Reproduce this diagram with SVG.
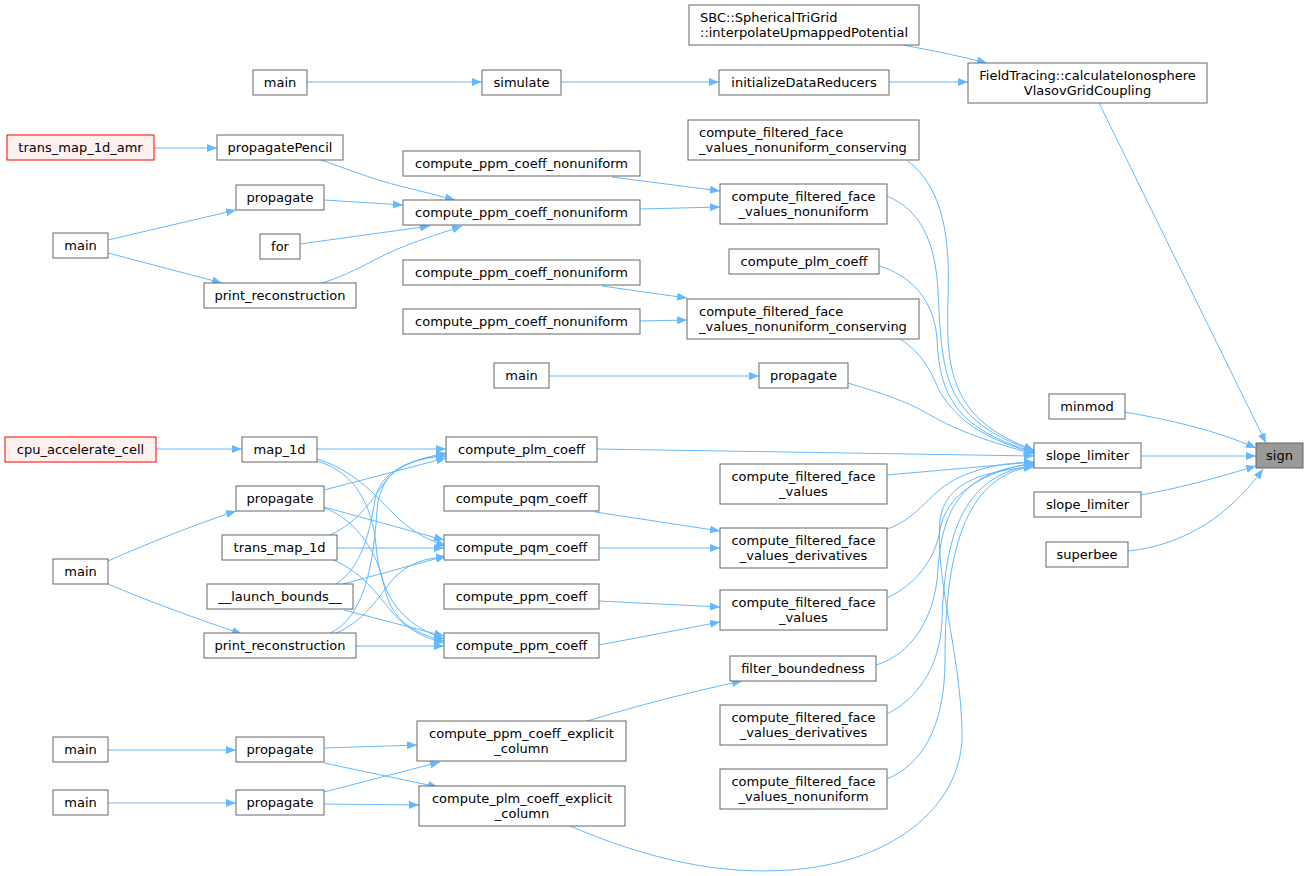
<svg xmlns="http://www.w3.org/2000/svg" width="1309" height="876" viewBox="0 0 1309 876">
<style>
.n rect{fill:#fff;stroke:#666;stroke-width:1}
.r rect{fill:#fff0f0;stroke:#ff0000}
.g rect{fill:#999}
text{font-family:"DejaVu Sans",sans-serif;font-size:13px;fill:#000;text-anchor:middle}
text.l{text-anchor:start}
#edges path{fill:none;stroke:#63b8ff;stroke-width:1;marker-end:url(#a)}
</style>
<defs>
<marker id="a" markerWidth="11" markerHeight="8" refX="10" refY="4" orient="auto" markerUnits="userSpaceOnUse"><path d="M0,0 L10,4 L0,8 z" fill="#63b8ff"/></marker>
</defs>
<rect width="1309" height="876" fill="#fff"/>
<g id="edges">
<path d="M903,45 C930,50 960,56 987,63"/>
<path d="M889,82 L968,82"/>
<path d="M1099,103 L1266,443"/>
<path d="M1125,412 C1170,420 1215,430 1256,448"/>
<path d="M1141,456 L1256,456"/>
<path d="M1141,495 C1180,488 1220,477 1256,466"/>
<path d="M1128,551 C1185,545 1230,515 1263,469"/>
<path d="M307,82 L482,82"/>
<path d="M561,82 L719,82"/>
<path d="M154,148 L217,148"/>
<path d="M321,160 C350,170 375,180 400,186 C420,191 440,196 455,200"/>
<path d="M324,200 L403,205"/>
<path d="M300,244 L430,226"/>
<path d="M322,283 C355,273 380,255 405,246 C425,238 445,232 462,226"/>
<path d="M108,240 L236,210"/>
<path d="M108,253 L222,283"/>
<path d="M612,177 L720,191"/>
<path d="M640,209 L720,207"/>
<path d="M602,286 L687,298"/>
<path d="M640,321 L687,320"/>
<path d="M549,376 L759,376"/>
<path d="M907,160 C945,190 950,240 948,300 C946,370 950,420 1034,450"/>
<path d="M887,196 C920,210 935,240 938,290 C942,380 945,420 1034,451"/>
<path d="M879,266 C910,275 935,300 937,340 C940,400 960,430 1034,452"/>
<path d="M900,339 C925,355 932,375 940,392 C960,425 990,440 1034,453"/>
<path d="M848,383 C880,393 905,400 930,415 C960,432 990,442 1034,454"/>
<path d="M597,449 L1034,456"/>
<path d="M887,475 L1034,462"/>
<path d="M887,529 C920,518 930,490 960,477 C985,466 1005,463 1034,462"/>
<path d="M887,598 C915,585 935,560 940,530 C945,495 985,470 1034,463"/>
<path d="M876,665 C910,655 935,620 938,570 C942,500 970,470 1034,464"/>
<path d="M887,714 C915,700 940,670 942,620 C945,530 965,475 1034,465"/>
<path d="M887,779 C920,765 945,730 945,660 C945,540 970,475 1034,466"/>
<path d="M570,826 C650,860 720,875 790,870 C900,862 965,800 962,730 C960,650 935,580 940,520 C945,480 990,470 1034,467"/>
<path d="M156,449 L242,449"/>
<path d="M317,449 L446,449"/>
<path d="M317,459 C355,470 380,500 400,520 C415,533 428,540 446,546"/>
<path d="M317,461 C355,472 372,505 376,545 C380,600 405,625 444,639"/>
<path d="M324,490 L446,458"/>
<path d="M324,507 L444,540"/>
<path d="M324,508 C358,520 378,555 384,585 C390,618 410,632 444,641"/>
<path d="M330,535 C360,522 375,495 388,478 C400,465 420,458 446,453"/>
<path d="M337,548 L444,548"/>
<path d="M333,560 C360,570 378,595 392,612 C405,628 422,637 444,643"/>
<path d="M336,584 C362,568 370,530 375,500 C380,470 412,459 446,455"/>
<path d="M343,584 L446,556"/>
<path d="M344,610 L444,636"/>
<path d="M330,633 C365,618 374,560 377,510 C380,468 412,458 446,456"/>
<path d="M336,633 C368,620 382,590 396,576 C410,563 425,558 446,557"/>
<path d="M356,646 L444,646"/>
<path d="M108,561 C140,547 185,528 236,511"/>
<path d="M108,584 C145,600 200,620 242,634"/>
<path d="M595,512 L720,531"/>
<path d="M599,548 L720,548"/>
<path d="M599,601 L720,607"/>
<path d="M599,645 L720,622"/>
<path d="M587,721 C640,705 690,692 742,681"/>
<path d="M108,750 L236,750"/>
<path d="M324,748 L417,745"/>
<path d="M324,763 L438,787"/>
<path d="M108,803 L236,803"/>
<path d="M324,792 L440,762"/>
<path d="M324,804 L419,805"/>
</g>
<g id="n_sign" class="n g"><rect x="1256" y="443" width="47" height="25"/><text x="1279.5" y="460">sign</text></g>
<g id="n_minmod" class="n"><rect x="1049" y="394" width="76" height="25"/><text x="1087" y="411">minmod</text></g>
<g id="n_sl1" class="n"><rect x="1034" y="443" width="107" height="25"/><text x="1087.5" y="460">slope_limiter</text></g>
<g id="n_sl2" class="n"><rect x="1034" y="492" width="107" height="25"/><text x="1087.5" y="509">slope_limiter</text></g>
<g id="n_superbee" class="n"><rect x="1046" y="542" width="82" height="25"/><text x="1087" y="559">superbee</text></g>
<g id="n_ft" class="n"><rect x="968" y="63" width="239" height="40"/><text x="1087.5" y="80">FieldTracing::calculateIonosphere</text><text x="1087.5" y="95">VlasovGridCoupling</text></g>
<g id="n_sbc" class="n"><rect x="689" y="5" width="230" height="40"/><text class="l" x="700" y="22">SBC::SphericalTriGrid</text><text class="l" x="700" y="37">::interpolateUpmappedPotential</text></g>
<g id="n_idr" class="n"><rect x="719" y="70" width="170" height="25"/><text x="804" y="87">initializeDataReducers</text></g>
<g id="n_sim" class="n"><rect x="482" y="70" width="79" height="25"/><text x="521.5" y="87">simulate</text></g>
<g id="n_main1" class="n"><rect x="253" y="70" width="54" height="25"/><text x="280" y="87">main</text></g>
<g id="n_tm1damr" class="n r"><rect x="7" y="135" width="147" height="25"/><text x="80.5" y="152">trans_map_1d_amr</text></g>
<g id="n_pp" class="n"><rect x="217" y="135" width="126" height="25"/><text x="280" y="152">propagatePencil</text></g>
<g id="n_cffvnc1" class="n"><rect x="688" y="120" width="231" height="40"/><text class="l" x="699" y="137">compute_filtered_face</text><text class="l" x="699" y="152">_values_nonuniform_conserving</text></g>
<g id="n_cpcn1" class="n"><rect x="403" y="151" width="237" height="25"/><text x="521.5" y="168">compute_ppm_coeff_nonuniform</text></g>
<g id="n_cffvn1" class="n"><rect x="720" y="184" width="167" height="40"/><text x="803.5" y="201">compute_filtered_face</text><text x="803.5" y="216">_values_nonuniform</text></g>
<g id="n_cpcn2" class="n"><rect x="403" y="200" width="237" height="25"/><text x="521.5" y="217">compute_ppm_coeff_nonuniform</text></g>
<g id="n_prop1" class="n"><rect x="236" y="185" width="88" height="25"/><text x="280" y="202">propagate</text></g>
<g id="n_for" class="n"><rect x="260" y="234" width="40" height="25"/><text x="280" y="251">for</text></g>
<g id="n_main2" class="n"><rect x="53" y="233" width="55" height="25"/><text x="80.5" y="250">main</text></g>
<g id="n_pr1" class="n"><rect x="204" y="283" width="152" height="25"/><text x="280" y="300">print_reconstruction</text></g>
<g id="n_cplm1" class="n"><rect x="729" y="249" width="150" height="25"/><text x="804" y="266">compute_plm_coeff</text></g>
<g id="n_cpcn3" class="n"><rect x="403" y="260" width="237" height="25"/><text x="521.5" y="277">compute_ppm_coeff_nonuniform</text></g>
<g id="n_cpcn4" class="n"><rect x="403" y="309" width="237" height="25"/><text x="521.5" y="326">compute_ppm_coeff_nonuniform</text></g>
<g id="n_cffvnc2" class="n"><rect x="687" y="299" width="232" height="40"/><text class="l" x="699" y="316">compute_filtered_face</text><text class="l" x="699" y="331">_values_nonuniform_conserving</text></g>
<g id="n_main3" class="n"><rect x="494" y="363" width="55" height="25"/><text x="521.5" y="380">main</text></g>
<g id="n_prop2" class="n"><rect x="759" y="363" width="89" height="25"/><text x="803.5" y="380">propagate</text></g>
<g id="n_cpu" class="n r"><rect x="5" y="437" width="151" height="25"/><text x="80.5" y="454">cpu_accelerate_cell</text></g>
<g id="n_map1d" class="n"><rect x="242" y="437" width="75" height="25"/><text x="279.5" y="454">map_1d</text></g>
<g id="n_cplm2" class="n"><rect x="446" y="437" width="151" height="25"/><text x="521.5" y="454">compute_plm_coeff</text></g>
<g id="n_cffv1" class="n"><rect x="720" y="464" width="167" height="40"/><text x="803.5" y="481">compute_filtered_face</text><text x="803.5" y="496">_values</text></g>
<g id="n_prop3" class="n"><rect x="236" y="486" width="88" height="25"/><text x="280" y="503">propagate</text></g>
<g id="n_cpqm1" class="n"><rect x="444" y="486" width="155" height="25"/><text x="521.5" y="503">compute_pqm_coeff</text></g>
<g id="n_tm1d" class="n"><rect x="222" y="535" width="115" height="25"/><text x="279.5" y="552">trans_map_1d</text></g>
<g id="n_cpqm2" class="n"><rect x="444" y="535" width="155" height="25"/><text x="521.5" y="552">compute_pqm_coeff</text></g>
<g id="n_cffvd1" class="n"><rect x="720" y="528" width="167" height="40"/><text x="803.5" y="545">compute_filtered_face</text><text x="803.5" y="560">_values_derivatives</text></g>
<g id="n_main4" class="n"><rect x="53" y="559" width="55" height="25"/><text x="80.5" y="576">main</text></g>
<g id="n_lb" class="n"><rect x="207" y="584" width="146" height="25"/><text x="280" y="601">__launch_bounds__</text></g>
<g id="n_cppm1" class="n"><rect x="444" y="584" width="155" height="25"/><text x="521.5" y="601">compute_ppm_coeff</text></g>
<g id="n_cffv2" class="n"><rect x="720" y="590" width="167" height="40"/><text x="803.5" y="607">compute_filtered_face</text><text x="803.5" y="622">_values</text></g>
<g id="n_pr2" class="n"><rect x="204" y="633" width="152" height="25"/><text x="280" y="650">print_reconstruction</text></g>
<g id="n_cppm2" class="n"><rect x="444" y="633" width="155" height="25"/><text x="521.5" y="650">compute_ppm_coeff</text></g>
<g id="n_fb" class="n"><rect x="730" y="656" width="146" height="25"/><text x="803" y="673">filter_boundedness</text></g>
<g id="n_cpcec" class="n"><rect x="417" y="721" width="209" height="40"/><text x="521.5" y="738">compute_ppm_coeff_explicit</text><text x="521.5" y="753">_column</text></g>
<g id="n_cffvd2" class="n"><rect x="720" y="705" width="167" height="40"/><text x="803.5" y="722">compute_filtered_face</text><text x="803.5" y="737">_values_derivatives</text></g>
<g id="n_main5" class="n"><rect x="53" y="737" width="55" height="25"/><text x="80.5" y="754">main</text></g>
<g id="n_prop4" class="n"><rect x="236" y="737" width="88" height="25"/><text x="280" y="754">propagate</text></g>
<g id="n_cffvn2" class="n"><rect x="720" y="769" width="167" height="40"/><text x="803.5" y="786">compute_filtered_face</text><text x="803.5" y="801">_values_nonuniform</text></g>
<g id="n_main6" class="n"><rect x="53" y="790" width="55" height="25"/><text x="80.5" y="807">main</text></g>
<g id="n_prop5" class="n"><rect x="236" y="790" width="88" height="25"/><text x="280" y="807">propagate</text></g>
<g id="n_cplmcec" class="n"><rect x="419" y="786" width="206" height="40"/><text x="522" y="803">compute_plm_coeff_explicit</text><text x="522" y="818">_column</text></g>
</svg>
